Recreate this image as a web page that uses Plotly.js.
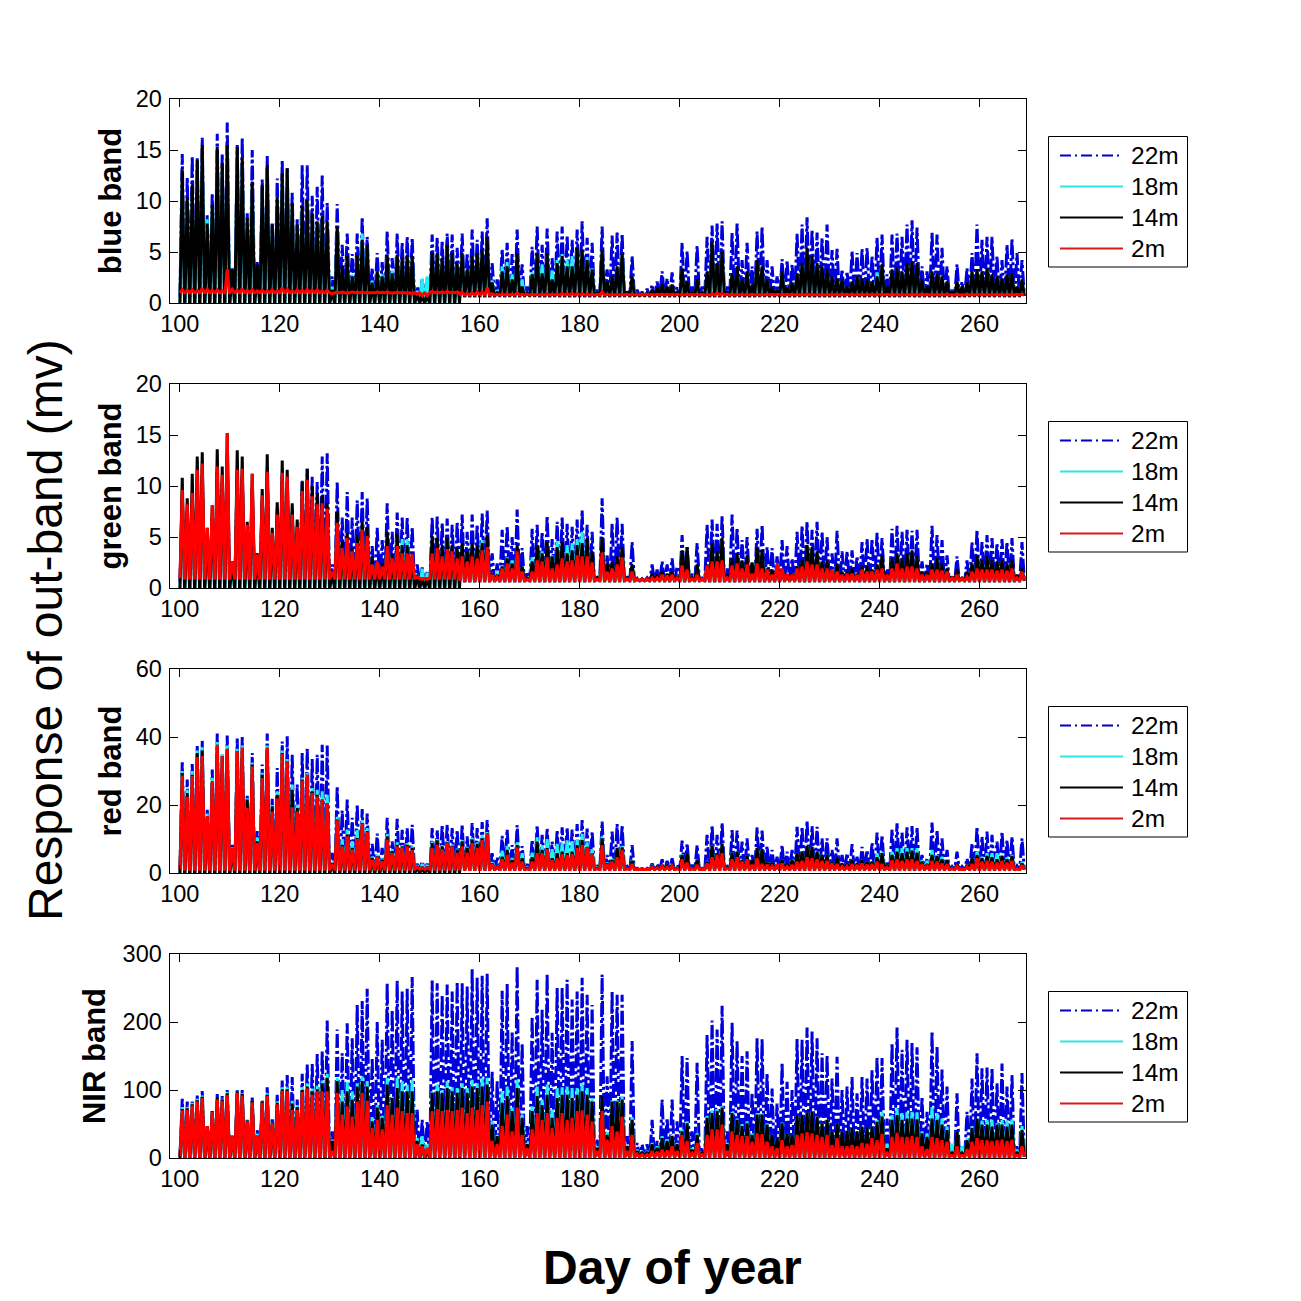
<!DOCTYPE html>
<html><head><meta charset="utf-8">
<script src="https://cdn.plot.ly/plotly-3.0.1.min.js"></script>
<style>html,body{margin:0;padding:0;background:#fff}</style></head>
<body><div id="chart" style="width:1301px;height:1301px"></div>
<script>
const firstDay = 100;
const seriesNames = ['22m','18m','14m','2m'];
const bandNames = ['blue band','green band','red band','NIR band'];
const xTicks = [100,120,140,160,180,200,220,240,260];

// Daily peak values, day 100 to day 268
const blue22 = [14.6,12.3,14.4,14.2,16.2,8.6,10.8,16.6,14.6,17.7,
3.4,15.5,16.2,8.8,15,4,12.1,14.4,7.8,12.2,
14,13.2,10.8,8.2,13.5,13.5,10.5,11.4,12.5,9.8,
2.6,9.7,5.7,6.8,4.8,6.8,8.4,6.5,3.4,4.9,
4,7,4.4,6.8,5.9,6.5,6.4,1.6,2.3,2.4,
6.7,6.4,6.1,6.8,6.7,5.4,6.8,4.9,7.2,6.2,
7,8.3,3.9,2.3,5.3,5.9,4.8,7.2,3.8,1.6,
5.5,7.5,5.7,7.3,4.4,7,7.5,6.6,6.2,7.2,
8,6.4,5.9,1.3,7.5,3.3,6.6,6.9,6.8,1.3,
4.6,1.3,1.1,1.4,1.8,2.1,3.1,2.4,3,1.6,
5.9,5.1,1.6,5.6,1.6,6.5,7.6,7.8,8,1.6,
6.9,7.8,4.2,5.9,3.6,7,7.5,4.2,3.6,2.6,
4.3,4.2,3.8,6.8,7.7,8.4,7.2,6.9,6.4,7.7,
5.2,5.3,3.3,3.1,5.1,4.9,5.3,5.4,4.6,6.4,
6.7,2.8,6.7,6.8,6.5,7.7,8.1,7.4,3.6,3.1,
6.9,6.7,5.4,3.6,1.3,3.8,2.1,3.4,4.9,7.7,
6.2,6.5,6.5,4.6,4.2,5.7,6.3,4.9,4.2];
const blue18 = [12,9.5,10.5,13,14.5,8.2,9.3,14.6,13,15,
3.2,14.5,13.6,7.9,11.5,3.5,11,13,7.4,10,
12,12.8,9.4,7.4,9.2,9.8,8.5,7.8,8.3,7.8,
1.6,7.2,3.4,4.4,2.8,4.5,6.8,5.5,2.2,3,
2.8,4.5,3.2,4.5,4.3,4.5,4.4,1.2,2.4,2.6,
4.7,4.7,4.2,5.4,4.7,3.8,4.7,3.2,4.4,4.7,
5,6.2,2.2,1.2,3.6,4,2.8,4.7,2.3,1.1,
3,4.7,3.8,4.7,3.2,4.2,4.8,4.2,4.6,5.2,
5,4.5,3.4,1,5,2,2.5,3.5,4.7,1.1,
2.4,.9,.9,1,1.2,1.4,1.7,1.5,1.7,1.1,
3.2,2,1,2.2,1,3,5.5,3.7,4.8,1.1,
2.8,3.4,2.2,3,1.7,4,3.4,2.2,1.5,1.2,
3,1.4,1.9,2.8,3.7,5.1,4.4,3.7,3.4,3.2,
2.5,2.3,2.2,1.5,2,2.5,2.3,2.2,2,3,
3.6,1.5,3.2,3.3,3,3.7,3.9,3.7,2.2,1.5,
3,2.8,2.5,2,1,2,1.5,1.9,3,3.2,
3,3.3,2.7,2.5,2.3,2.7,2.8,1.5,2.2];
const blue14 = [13,10.4,11.6,14,15.5,7.8,9.6,15.3,13.7,15.5,
3.3,15.3,14.2,8.3,11.9,3.8,11.6,13.5,7.7,10.4,
12.7,13.2,9.8,7.7,9.5,10.1,8.8,8,8.5,8,
1.3,7.5,3.6,4.6,2.6,4.7,6.2,5.7,2,3.1,
2.6,4.7,2.9,4.7,4.4,4.7,4.6,1,.8,.8,
4.9,4.9,4.4,5.7,4.9,3.9,4.9,3.3,4.6,4.9,
5.2,6.5,2,1,3.1,3.6,2.3,4.9,1.6,1,
2.8,4.9,2.9,4.9,2.3,3.9,4.6,3.6,3.6,5.4,
5.2,4.2,3.3,1,5.2,2.1,2.6,3.6,4.9,1.1,
2.6,.9,.9,1,1.3,1.5,1.8,1.6,1.8,1.1,
3.4,2.1,1,2.3,1,3.1,6,3.9,5,1.1,
2.9,3.6,2.3,3.1,1.8,4.2,3.6,2.3,1.6,1.3,
3.1,1.5,2,2.9,3.9,5.4,4.6,3.9,3.6,3.3,
2.6,2.4,2.3,1.6,2.1,2.6,2.4,2.3,2.1,2.6,
3.8,1.6,3.3,3.4,3.1,3.9,4.1,3.9,2.3,1.6,
3.1,2.9,2.6,2.1,1.1,2.1,1.6,2,3.1,3.3,
3.1,3.4,2.8,2.6,2.4,2.8,2.9,1.6,2.3];
const blue2 = [1.3,1.25,1.3,1.2,1.45,1.35,1.25,1.3,1.2,3.3,
1.35,1.25,1.4,1.25,1.3,1.2,1.25,1.2,1.3,1.2,
1.5,1.35,1.2,1.3,1.25,1.35,1.25,1.3,1.2,1.25,
.9,1.05,1.1,.95,1.1,1.05,1.1,1,1,1.1,
1.05,1.1,.95,1.05,1,.95,.9,.85,.7,.7,
1.15,1.1,1.1,1.15,1.05,1.1,1.05,.95,1,1.1,
1.05,1.5,.9,.85,.9,.9,.85,1,.85,.85,
.85,.85,.85,.9,.85,.9,.95,.9,.95,.9,
.9,.9,.85,.85,1.1,.85,.85,.85,.85,.85,
.85,.85,.85,.85,.85,.85,.85,.85,.85,.85,
.85,.85,.85,.85,.85,.85,.9,1,.95,.85,
.85,.85,.85,.85,.85,.85,.85,.85,.85,.85,
.85,.85,.85,.85,.85,.9,.85,.85,.85,.85,
.85,.85,.85,.85,.85,.85,.85,.85,.85,.85,
.85,.85,.9,.85,.85,.85,.9,.85,.85,.85,
.85,.85,.85,.85,.8,.85,.8,.85,.85,.85,
.85,.85,.85,.85,.85,.85,.85,.85,.85];

const green22 = [9,7.6,9,10.5,11.5,5,6.8,11.5,10.5,13,
2.3,11.5,11,5.5,9.8,3.4,8.7,11.5,4.9,7.8,
11,10.5,7.5,6,10.6,11.7,10.9,10.4,12.9,13.2,
2.3,10.4,6.9,9.4,6.9,8.6,9.4,8.8,4.1,5.9,
4.7,8.3,5.5,7.4,6.9,6.9,6,2.3,2,1.6,
6.9,7,6.4,6.8,6.2,6.5,7.2,5.5,7.2,6.2,
7.3,7.6,3.4,2.4,5.7,6.1,5,7.7,3.9,1.6,
5.8,6.2,5.5,7.1,4.8,6.5,6.9,6.3,6,6.7,
7.6,6.2,5.5,1.1,8.8,3.2,6.3,6.9,6.3,1.1,
4.5,.95,.95,1,2.3,1.8,2.6,2.3,2.9,2.1,
5.2,4,1.4,4.4,.95,6.2,6.7,6.3,7.1,1.9,
7.2,5.9,4.7,5,2.4,5.8,6.2,4,3.9,3.1,
4.7,4.1,2.9,5.5,6.1,6.5,5.7,6.5,5.5,5,
3.4,5.6,3.6,3.6,3.7,3.1,4.5,4.8,4.8,5.4,
4.9,1.9,5.8,6.1,5.5,5.7,5.6,5.7,2.6,2.4,
6.1,5.2,4.7,3.2,1.1,3.1,.95,2.7,4.5,5.7,
4.5,5.2,4.9,4.4,4.8,4.5,4.9,1.1,4.5];
const green18 = [8.5,7.4,8.5,10,10.8,5.2,6.5,10.8,10,12,
2.2,10.8,10.5,5.4,9.5,3.2,8.5,10.5,4.8,7.6,
10.5,10,7.2,5.8,9,9.5,8.5,8,7.8,7.2,
1.5,6.8,4.2,5,3.6,5.2,6.2,5.6,2.9,2.4,
2.3,5.2,3.2,5,4.8,4.8,3.1,1.3,1.9,1.5,
4.7,4.6,4,4.7,4,3.7,4.2,3.4,4.2,4,
4.7,4.7,1.3,1.6,2.2,3,2.7,4,2,.9,
3,3.8,3.6,3.9,3.2,4.6,4,4.2,4.4,4.8,
5.5,4.6,3.4,1,4.8,2.3,2.4,2.9,3.8,1,
2.2,.9,.9,.9,1.3,1.2,1.5,1.3,1.5,1,
3.5,3.8,1,2.2,.9,2.2,4.2,3.4,4.6,1.2,
2.7,3.2,2.5,3,1.8,3.7,3.5,1.8,1.7,2.1,
1.8,1.2,1.3,2,2.5,3.9,3.8,3.4,2.5,2.6,
1.5,2.3,1.5,1.5,1.8,1.3,2,2,1.7,2.2,
3,1.3,2.8,3.2,2.8,3.2,3.5,3,1.5,1.5,
2.3,2.8,2.2,1.8,1,1.7,.9,1.5,2.3,3,
2.6,3,2.6,2.5,2.6,2.3,2.6,1.2,1.8];
const green14 = [10.8,8.8,11.2,12.9,13.3,5.9,8.1,13.6,11.9,15.2,
2.6,13.5,12.9,6.5,11.2,3.4,9.7,13.1,5.9,8.4,
12.5,11.6,8.3,6.7,10.4,11.7,10,9.3,9.1,8.3,
1.6,7.5,4.6,5.4,3.9,5.2,6.5,6,3.1,2.6,
2.4,5.5,3.3,5.3,4.2,4.2,3.3,1.3,1,1,
5.1,4.9,4.2,4.9,4.2,3.9,4.4,3.6,4.4,4.2,
4.4,5.2,1.4,1.3,2.1,2.9,2.4,4.2,2.1,.95,
2.6,4.2,3.4,4.5,3.1,4,4.5,3.4,3.7,4.2,
4.4,4.9,3.6,1,5,2.4,2.6,3.1,4,1,
2.3,.9,.9,.9,1.4,1.3,1.6,1.4,1.6,1.1,
3.7,4,1,2.3,.9,2.3,4.4,3.6,4.9,1.3,
2.9,3.4,2.7,3.2,2.5,3.9,3.7,1.9,1.8,2.3,
1.9,1.3,1.4,2.1,2.7,4.2,4,3.6,2.6,2.7,
1.6,2.4,1.6,1.6,1.9,1.4,2.1,2.1,1.8,2.3,
3.2,1.4,2.9,3.4,2.9,3.4,3.7,3.1,1.6,1.6,
2.4,2.9,2.3,1.9,1.1,1.8,.95,1.6,2.4,3.2,
2.7,3.1,2.7,2.6,2.7,2.4,2.7,1.3,1.9];
const green2 = [9.6,8.2,9.3,11.6,12.2,5.9,8.1,11.9,11.1,15.2,
2.6,11.6,11.7,6.2,11.2,3.3,9.1,11.4,5.4,7.2,
11.3,10.9,7.2,6,9.5,10.6,9,8.2,8.3,7.8,
1.6,6.4,3.9,4.9,3.6,4.4,5.7,5.1,2.3,2.6,
2.1,4.1,2.9,4.1,3.4,3.4,3.3,1.1,.85,.85,
3.4,3.9,3.1,3.8,3.6,2.9,3.1,2.6,3.1,2.9,
3.7,4,1.3,1.1,1.9,2.4,1.9,3.6,1.6,.85,
1.6,2.7,2.6,3,1.9,2.3,2.9,2.6,2.7,3.2,
3.1,3.1,2.5,.85,3.5,1.6,1.9,2.3,3,.9,
1.6,.85,.85,.85,1,1,1.3,1.2,1.3,1,
2.2,1.8,.9,1.3,.85,2.2,2.6,2.6,2.7,1,
2.2,2.4,1.9,2.3,1.4,2.4,1.9,1.8,1.3,2.3,
1.9,1.4,1.3,1.9,2.1,2.6,2.3,2.3,1.9,1.9,
1.8,1.6,1.3,1.4,1.4,1.3,1.8,1.6,1.6,1.8,
1.9,1.3,1.9,2.4,1.9,2.1,2.1,1.9,1.3,1.3,
1.8,1.8,1.7,1.6,1,1.3,.95,1.1,1.6,1.9,
1.8,1.8,1.8,1.7,1.8,1.7,1.9,1,1.6];

const red22 = [32.8,27.5,32.4,37.5,38.9,18.6,30.4,41,34.8,40.4,
8.3,39.7,40,22.7,35.3,12.3,31.9,41,21.8,30.9,
38.7,40.2,34.8,26,35.3,36.8,33.5,34.8,37.7,37.5,
5.9,25.5,18.4,21.6,16.2,20.1,18.8,17.5,8.6,11.6,
7.4,16.2,9.3,15.9,12.7,13.2,14.2,2.7,3.4,2.7,
13.2,12.7,14.2,14.2,13.2,12.7,14.2,10.8,14.7,13.2,
15,15.6,5.8,4.6,10.9,12.8,8.2,14.1,7.9,2.6,
9.7,14.1,11.2,13.1,9.2,12.6,13.4,13.4,12.8,14.4,
15.6,13.1,12.2,1.9,15.1,5.3,12.2,14.4,14.1,1.9,
8.2,1.4,1.3,1.4,2.8,2.6,4,3.6,4.3,2.4,
9.5,8.7,2.4,8.2,1.4,11.2,14.1,11.2,14.8,1.9,
12.6,12.5,9.2,10.2,5.3,13.4,12.5,7.9,6.8,4.8,
8.2,6.3,6.8,13.6,13.6,15.4,13.8,13.6,10.2,10.2,
6.8,10.2,5.3,5.8,8.5,4.8,7.7,6.8,8.9,11.9,
11.2,3,12.8,14.6,11.9,13.4,13.8,13.4,5.3,4.3,
14.8,12.6,10.2,6.8,1.9,6.3,1.9,4.3,8.7,13.6,
10.7,12.2,11.2,9.2,12.2,9.7,10.7,2.1,10.2];
const red18 = [30,24.5,30,36,37,17.5,28,38.5,35,37.5,
7.6,36.5,37.5,22,32.5,10.5,29.5,37.5,20,24,
36,33.5,26,20,28,29.5,25,24.5,24,23,
3.2,16.5,10,12.8,9.4,12.6,15.4,13.2,4.8,5.4,
4.3,11.5,7,9,8.2,8.8,7.8,2.3,2.7,2.4,
9.2,10,8.2,9.4,8.4,7.2,9.7,7.7,10.3,9,
11.2,12,3.2,2.2,6.6,8,4.4,9,5.8,1.6,
6,10.5,8.2,10,7,8.6,8.8,9.6,9.4,10,
11.5,9,7,1.5,10.8,3,4.2,7.6,8,1.4,
3.8,1.2,1.2,1.2,2,1.7,2.4,2.1,2.4,1.4,
5.5,5.8,1.4,3.8,1.2,3.4,8,5.8,8.5,1.6,
6,6.3,3.8,5,2.8,7.3,7,3,3,2.4,
3.8,2.8,3.8,5.8,6.3,7.9,7.7,6.3,5.3,5.3,
3.3,4.6,2.8,2.8,3.8,2.8,3.8,3.3,3.3,5.8,
6.3,2.4,6.3,7.3,7.3,7.3,7.3,7.3,3.8,3.6,
6.8,5.3,4.8,3.8,1.4,2.8,1.2,2.4,4.3,6.3,
4.8,5.8,5.8,5.8,5.3,4.6,5.3,1.4,3.2];
const red14 = [29.4,23.5,28.9,35.3,36,16.7,27,37.7,34.3,36.5,
7.4,35.8,36.8,21.6,31.9,9.3,28.9,36.8,19.6,23,
35.3,32.8,24.5,19.1,27.5,28.9,24,23,21.6,20.6,
2.9,15.7,8.3,11.3,7.4,10.3,14.7,12.3,4.4,4.9,
3.9,10.8,6.4,8.3,7.8,8.3,7.4,2,1.8,1.8,
8.8,9.6,7.8,9,8,6.9,9.3,7.4,9.8,8.6,
10.2,11.7,2.8,1.9,4.8,6.8,3.8,8.2,4.3,1.4,
4.6,9.2,6.8,7.3,4.3,5.8,6.3,5.8,6.3,8.2,
9.7,7.7,5.8,1.4,10.2,2.8,3.8,7.3,7.5,1.4,
3.6,1.2,1.2,1.2,1.9,1.7,2.4,2.1,2.4,1.4,
5.3,5.8,1.4,3.8,1.2,3.3,7.9,5.8,8.5,1.6,
6,6.3,3.8,5,3.8,7.3,7,3,3,2.4,
3.8,2.8,3.8,5.8,6.3,7.9,7.7,6.3,5.3,5.3,
3.3,4.6,2.8,2.8,3.8,2.8,3.8,3.3,3.3,4.6,
5.8,2.4,5.3,6.3,5.8,6.3,6.6,6,3.3,2.6,
5.3,5,4,3.8,1.4,2.8,1.2,2.4,4.3,5.3,
4.3,5,4.6,4,5,4,5,1.4,2.8];
const red2 = [28.7,22.4,28.6,34.1,34.5,16.7,27,37.7,34.3,36.5,
7.4,35.8,36.8,19.1,31.4,8.8,27.9,36.8,18.1,22,
35.1,32.8,19.3,18.1,27.2,28.9,23.5,22.5,21.6,20.6,
2.2,15.5,7.8,10.8,6.9,10,14.5,12,3.9,4.7,
3.4,9.8,5.9,7.8,7.5,7.8,6.7,1.8,1.5,1.5,
7.4,8.3,6.9,8.8,7.8,5.9,7.8,6,8.8,7.4,
9.7,11.7,2.6,1.7,4,5.3,3,7.5,3.3,1.2,
3.3,5.8,5.8,7,3.8,4.3,5.6,5.3,5.6,7.3,
8.2,7.5,5.8,1.3,8.2,2.6,3.3,4.6,6.8,1.3,
2.6,1.1,1.1,1.1,1.7,1.5,2,1.7,2,1.3,
4,3,1.3,2.4,1.1,2.8,4.6,5.3,5.8,1.4,
4,4.6,3.3,4,2.4,4.3,2.6,2.5,2,2.6,
2.8,1.9,2.4,3.3,3.6,4.6,4.3,4,3.6,3.6,
2.8,2.6,1.9,2,2.6,2.4,2.8,2.5,2.6,3.3,
2.6,1.7,3.8,4,3.6,4,4,3.6,2.6,2.4,
3.6,3.3,2.8,2.6,1.3,2,1.1,1.9,2.6,4.3,
3.3,3.6,3.3,3,3.6,3,3.6,1.3,2.3];

const nir22 = [87,83,83,92,99,47,69,94,91,100,
33,100,100,56,89,41,86,104,59,93,
114,122,119,86,124,138,138,153,157,202,
39,189,154,198,176,225,231,249,147,200,
174,257,218,261,245,249,266,71,56,54,
261,257,240,255,245,259,257,252,278,265,
268,271,127,113,246,256,186,282,169,47,
208,262,218,271,184,250,251,262,233,245,
265,240,225,27,270,120,245,240,240,32,
172,22,20,20,56,25,86,59,86,54,
150,147,39,140,15,181,202,189,224,39,
199,172,150,157,96,176,175,125,102,80,
140,112,100,175,174,192,186,176,154,151,
117,149,100,105,119,95,119,117,129,149,
147,58,169,192,159,174,169,163,90,68,
186,164,130,105,19,95,17,68,117,154,
132,133,132,110,139,105,122,17,125];
const nir18 = [75,75,81,87,92,47,69,88,87,97,
33,99,95,55,84,36,83,95,52,83,
104,104,84,78,104,110,102,106,114,124,
27,118,100,112,98,110,120,113,60,78,
62,118,90,118,113,108,115,29,32,20,
98,108,100,113,104,103,110,103,115,110,
118,118,54,34,98,105,74,115,64,22,
76,105,86,108,71,103,104,105,103,103,
110,103,88,17,88,38,85,85,90,19,
60,12,10,10,22,17,32,27,34,22,
42,54,14,36,8,62,70,72,76,22,
68,58,50,54,36,66,66,51,34,29,
52,36,34,63,63,67,68,61,51,56,
39,51,39,40,44,39,46,44,46,56,
68,21,63,73,66,68,68,67,39,36,
75,66,58,46,21,39,17,29,47,58,
55,56,56,51,56,55,57,12,47];
const nir14 = [72,73,79,85,90,47,69,88,86,95,
33,98,94,55,84,33,83,93,52,81,
101,101,80,75,100,105,98,101,110,118,
25,113,83,98,86,105,113,105,54,74,
59,108,88,103,98,98,98,25,20,12,
96,98,96,103,98,96,103,96,105,103,
105,108,49,32,81,91,69,103,59,20,
69,91,78,93,59,88,93,93,88,93,
98,93,83,15,91,34,83,83,86,17,
56,10,9,9,20,15,29,25,32,20,
39,51,12,34,7,59,66,69,74,20,
66,56,47,51,34,64,64,49,34,29,
51,36,34,63,63,67,68,61,51,56,
39,51,39,40,44,39,46,44,46,53,
61,14,56,63,56,58,58,57,36,31,
58,56,49,41,7,39,7,26,44,58,
49,49,46,49,49,46,49,7,41];
const nir2 = [70,71,77,83,88,47,68,86,84,93,
32,96,92,54,82,32,81,91,51,79,
99,99,71,71,97,102,93,98,98,98,
10,96,64,76,61,83,96,84,44,56,
42,78,64,74,69,66,66,20,17,15,
69,72,69,71,69,71,74,66,74,71,
78,83,25,20,47,64,39,74,34,14,
42,66,56,66,44,59,66,56,59,69,
70,64,54,10,69,27,47,39,61,10,
34,6,5,5,10,9,12,11,17,10,
34,25,7,22,5,34,42,42,49,10,
39,34,32,32,24,36,35,24,17,14,
26,17,19,34,36,38,36,34,31,34,
19,29,17,17,19,17,22,21,29,26,
35,7,31,37,31,31,32,31,17,13,
31,29,26,24,4,17,4,13,24,29,
26,26,25,26,27,25,27,4,17];

// Overnight baseline of each series: [before day 156, from day 156]
const blueBase  = [[.6,.7],[0,.7],[0,.7],[1,.78]];
const greenBase = [[.6,.7],[0,.7],[0,.7],[.95,.72]];
const redBase   = [[1,1],[0,1],[0,1],[1.1,1]];
const nirBase   = [[2,2],[0,2],[0,2],[2.5,2]];

const bandPeaks = [[blue22,blue18,blue14,blue2],[green22,green18,green14,green2],[red22,red18,red14,red2],[nir22,nir18,nir14,nir2]];
const bandBases = [blueBase,greenBase,redBase,nirBase];
const yMax = [20,20,60,300];
const yStep = [5,5,20,100];
const titleStandoff = [4,4,4,7];
const seriesColors = ['#0000dc','#20f0f0','#000000','#ff0000'];
const keyColors = ['#0000c8','#30e4e4','#000000','#d81818'];
const seriesDash = ['14px,3px,3px,3px','solid','solid','solid'];
const panelTop = [99,384,669,954];
const panelH = 204, L = 169.5, R = 1026, H = 1301;
const halfDay = 0.46;
const keyY = [19,50,81,112];

const traces = [];
const layout = {width:1301,height:1301,margin:{l:0,r:0,t:0,b:0,pad:0},paper_bgcolor:'#fff',plot_bgcolor:'#fff',showlegend:false,
  font:{family:'"Liberation Sans",Arial,sans-serif',color:'#000',size:23.5},hovermode:false,annotations:[],shapes:[]};
const px = v=>v/H, py = v=>1-v/H;
bandNames.forEach((band,b)=>{
  const sfx = b===0?'':String(b+1);
  const top=panelTop[b];
  seriesNames.forEach((name,s)=>{
    const xs=[],ys=[];
    bandPeaks[b][s].forEach((p,i)=>{
      const d=firstDay+i, base=bandBases[b][s][d<156?0:1];
      xs.push(d+.5-halfDay,d+.5,d+.5+halfDay);
      ys.push(base,p,base);
    });
    traces.push({x:xs,y:ys,name:name,xaxis:'x'+sfx,yaxis:'y'+sfx,type:'scatter',mode:'lines',showlegend:false,
      line:{color:seriesColors[s],width:3,dash:seriesDash[s],simplify:false}});
  });
  const common={showgrid:false,zeroline:false,showline:true,linecolor:'#000',linewidth:1,mirror:'allticks',
    ticks:'inside',ticklen:8,tickcolor:'#000',tickwidth:1,automargin:false};
  layout['xaxis'+sfx]=Object.assign({},common,{domain:[L/H,R/H],range:[97.95,269.3],tickvals:xTicks,anchor:'y'+sfx,
    tickfont:{size:23.5}});
  layout['yaxis'+sfx]=Object.assign({},common,{domain:[1-(top+panelH)/H,1-top/H],range:[0,yMax[b]],dtick:yStep[b],anchor:'x'+sfx,
    tickfont:{size:23.5},ticklabelstandoff:2,title:{text:'<b>'+band+'</b>',font:{size:31},standoff:titleStandoff[b]}});
  // key box beside each panel
  const boxTop=top+37.5;
  layout.shapes.push({type:'rect',xref:'paper',yref:'paper',x0:px(1048.5),x1:px(1187.5),y0:py(boxTop),y1:py(boxTop+130.5),
    fillcolor:'#fff',line:{color:'#000',width:1}});
  seriesNames.forEach((name,s)=>{
    const y=boxTop+keyY[s];
    layout.shapes.push({type:'line',xref:'paper',yref:'paper',x0:px(1060),x1:px(1123),y0:py(y),y1:py(y),
      line:{color:keyColors[s],width:2,dash:s===0?'11px,4px,2px,4px':'solid'}});
    layout.annotations.push({text:name,xref:'paper',yref:'paper',x:px(1128.5),y:py(y),xanchor:'left',yanchor:'middle',
      showarrow:false,font:{size:24.5}});
  });
});
layout.annotations.push(
 {text:'Response of out-band (mv)',xref:'paper',yref:'paper',x:45/H,y:1-630/H,textangle:-90,showarrow:false,font:{size:48},xanchor:'center',yanchor:'middle'},
 {text:'<b>Day of year</b>',xref:'paper',yref:'paper',x:672/H,y:1-1267/H,showarrow:false,font:{size:48},xanchor:'center',yanchor:'middle'});
Plotly.newPlot('chart',traces,layout,{displayModeBar:false});
</script></body></html>
